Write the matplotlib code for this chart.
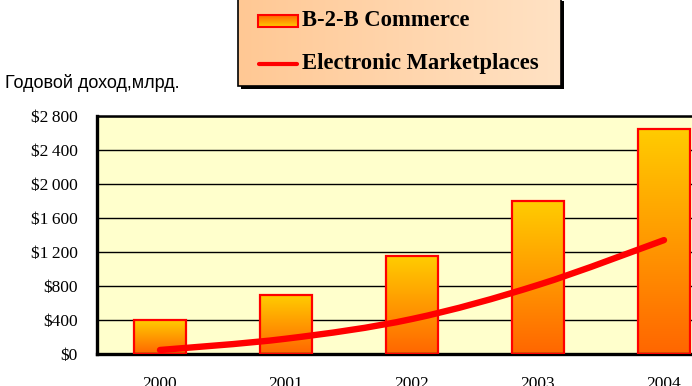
import numpy as np
import matplotlib.pyplot as plt
from matplotlib.path import Path
from matplotlib.patches import PathPatch, Rectangle
from matplotlib.colors import LinearSegmentedColormap

# data
years = ['2000', '2001', '2002', '2003', '2004']
b2b = [400, 690, 1150, 1800, 2650]
emarket = [47, 180, 412, 812, 1340]
yticks = [0, 400, 800, 1200, 1600, 2000, 2400, 2800]

serif = 'Liberation Serif'
sans = 'Liberation Sans'

fig = plt.figure(figsize=(6.92, 3.86), dpi=100)
fig.patch.set_facecolor('white')

# plot area (right edge goes past the picture, as in the reference)
ax = fig.add_axes([97/692, 32/386, 630/692, 238/386])
ax.set_facecolor('#FFFFCC')
x = np.arange(len(years))
width = 0.405

ax.set_xlim(-0.5, len(years) - 0.5)
ax.set_ylim(0, 2800)
ax.set_yticks(yticks)
ax.set_yticklabels(['$' + format(v, ',').replace(',', '\u2009') for v in yticks],
                   fontfamily=serif, fontsize=12.5)
ax.set_xticks(x)
ax.set_xticklabels(years, fontfamily=serif, fontsize=12.5)
ax.tick_params(axis='y', length=0, pad=14)
ax.tick_params(axis='x', length=0, pad=16)
ax.grid(axis='y', color='black', linewidth=1.0)
ax.set_axisbelow(True)
for s in ['left', 'bottom']:
    ax.spines[s].set_linewidth(2.4)
ax.spines['top'].set_linewidth(1.8)
ax.spines['right'].set_visible(False)

# gradient bars
grad = np.linspace(0, 1, 256).reshape(-1, 1)
bars = ax.bar(x, b2b, width=width, facecolor='none', edgecolor='#FF0000',
              linewidth=1.6, zorder=3)
barcmap = LinearSegmentedColormap.from_list('bar', ['#FF6600', '#FFCC00'])
for b in bars:
    x0, y0 = b.get_x(), b.get_y()
    im = ax.imshow(grad, cmap=barcmap, origin='lower', aspect='auto',
                   extent=(x0, x0 + b.get_width(), y0, y0 + b.get_height()),
                   zorder=2)
    im.set_clip_path(b)

# smoothed line (bezier through the data points)
pts = np.column_stack([x, emarket]).astype(float)
ext = np.vstack([pts[0], pts, pts[-1]])
verts = [pts[0]]
codes = [Path.MOVETO]
for i in range(len(pts) - 1):
    p0, p1, p2, p3 = ext[i], ext[i + 1], ext[i + 2], ext[i + 3]
    verts += [p1 + (p2 - p0) / 6, p2 - (p3 - p1) / 6, p2]
    codes += [Path.CURVE4] * 3
ax.add_patch(PathPatch(Path(verts, codes), facecolor='none', edgecolor='#FF0000',
                       linewidth=4.6, capstyle='round', zorder=4))

fig.text(5/692, 1 - 83/386, 'Годовой доход,млрд.', fontfamily=sans,
         fontsize=13, va='center', ha='left')

# legend box drawn in pixel coordinates
lax = fig.add_axes([0, 0, 1, 1], zorder=5)
lax.axis('off')
lax.add_patch(Rectangle((241, 1), 323, 88, facecolor='black', edgecolor='none',
                        zorder=1))
hgrad = np.linspace(0, 1, 256).reshape(1, -1)
legcmap = LinearSegmentedColormap.from_list('leg', ['#FFC894', '#FFE2C4'])
lax.imshow(hgrad, cmap=legcmap, aspect='auto', extent=(238, 561, 86, -2), zorder=2)
lax.add_patch(Rectangle((238, -2), 323, 88, facecolor='none', edgecolor='black',
                        linewidth=1.2, zorder=3))
lax.imshow(grad, cmap=barcmap, origin='upper', aspect='auto',
           extent=(258, 298, 27, 15), zorder=4)
lax.add_patch(Rectangle((258, 15), 40, 12, facecolor='none', edgecolor='#FF0000',
                        linewidth=1.5, zorder=5))
lax.plot([259, 297], [64, 64], color='#FF0000', linewidth=3,
         solid_capstyle='round', zorder=5)
lax.text(302, 20, 'B-2-B Commerce', fontfamily=serif, fontweight='bold',
         fontsize=16.3, va='center', ha='left', zorder=6)
lax.text(302, 64, 'Electronic Marketplaces', fontfamily=serif, fontweight='bold',
         fontsize=16.3, va='center', ha='left', zorder=6)
lax.set_xlim(0, 692)
lax.set_ylim(386, 0)

fig.savefig('out.png', dpi=100)
